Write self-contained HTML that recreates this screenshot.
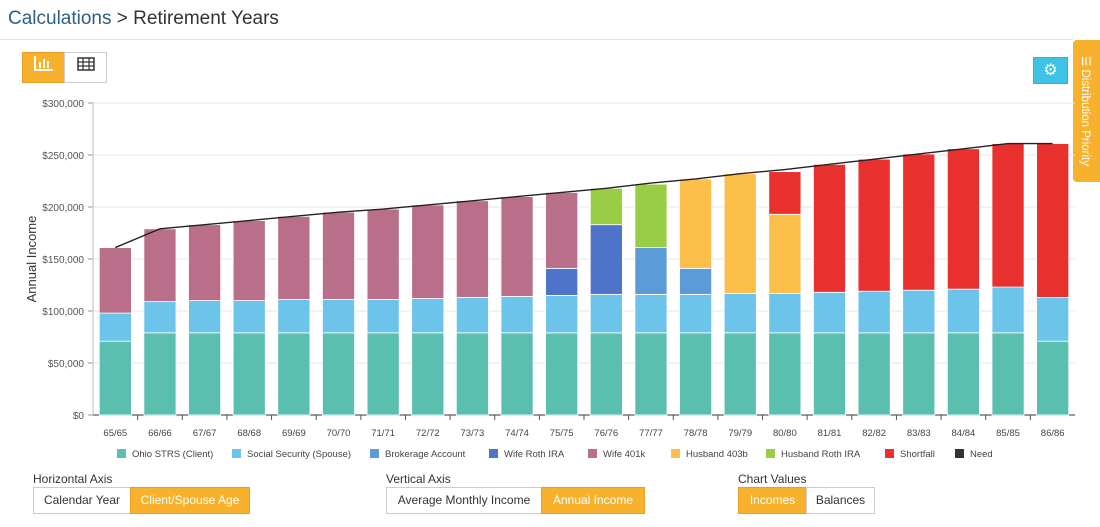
<!DOCTYPE html>
<html><head><meta charset="utf-8"><style>
body{margin:0;width:1100px;height:527px;background:#fff;font-family:"Liberation Sans",sans-serif;overflow:hidden;position:relative}
.abs{position:absolute}
.btn{position:absolute;height:27px;border:1px solid #ccc;box-sizing:border-box;font-size:12px;line-height:25px;text-align:center;color:#333;background:#fff}
.on{background:#f8b12c;border-color:#e9a020;color:#fff}
.lbl{position:absolute;font-size:12px;color:#333}
</style></head><body>
<div class="abs" style="left:8px;top:8px;font-size:19px;color:#333"><span style="color:#2d5f86">Calculations</span> &gt; Retirement Years</div>
<div class="abs" style="left:0;top:39px;width:1073px;height:1px;background:#e3e3e3"></div>
<div class="btn on" style="left:22px;top:52px;width:43px;height:31px;line-height:29px">
<svg width="20" height="16" viewBox="0 0 20 16"><path d="M1 1V15H19" stroke="#fff" stroke-width="2" fill="none"/><rect x="5" y="7" width="2" height="6" fill="#fff"/><rect x="9" y="4" width="2" height="9" fill="#fff"/><rect x="13" y="6" width="2" height="7" fill="#fff"/></svg></div>
<div class="btn" style="left:64px;top:52px;width:43px;height:31px;line-height:29px">
<svg width="18" height="14" viewBox="0 0 18 14"><rect x="1" y="1" width="16" height="12" fill="none" stroke="#333" stroke-width="1.5"/><path d="M1 5H17M1 9H17M6 1V13M12 1V13" stroke="#333" stroke-width="1.2"/></svg></div>
<div class="btn" style="left:1033px;top:57px;width:35px;height:27px;background:#3ec3e6;border-color:#2fb3d6;color:#fff;font-size:16px">⚙</div>
<div class="abs" style="left:1073px;top:40px;width:27px;height:142px;background:#f8b12c;border-radius:4px 0 0 4px">
<div style="position:absolute;left:13px;top:71px;transform:translate(-50%,-50%) rotate(90deg);white-space:nowrap;color:#fff;font-size:11.5px">☰ Distribution Priority</div></div>

<svg class="abs" style="left:0;top:0" width="1100" height="470" id="chart"></svg>

<div class="abs" style="left:0;top:448px;width:1100px;height:14px" id="legend"></div>

<div class="lbl" style="left:33px;top:472px">Horizontal Axis</div>
<div class="btn" style="left:33px;top:487px;width:98px">Calendar Year</div>
<div class="btn on" style="left:130px;top:487px;width:120px">Client/Spouse Age</div>
<div class="lbl" style="left:386px;top:472px">Vertical Axis</div>
<div class="btn" style="left:386px;top:487px;width:156px">Average Monthly Income</div>
<div class="btn on" style="left:541px;top:487px;width:104px">Annual Income</div>
<div class="lbl" style="left:738px;top:472px">Chart Values</div>
<div class="btn on" style="left:738px;top:487px;width:69px">Incomes</div>
<div class="btn" style="left:806px;top:487px;width:69px">Balances</div>

<script>
const categories=["65/65","66/66","67/67","68/68","69/69","70/70","71/71","72/72","73/73","74/74","75/75","76/76","77/77","78/78","79/79","80/80","81/81","82/82","83/83","84/84","85/85","86/86"];
const seriesNames=["Ohio STRS (Client)","Social Security (Spouse)","Brokerage Account","Wife Roth IRA","Wife 401k","Husband 403b","Husband Roth IRA","Shortfall","Need"];
const seriesColors=["#5bbfb0","#6cc4ea","#5b9bd8","#4e74c9","#b96f89","#fbbf4a","#99cd45","#e8302e","#333333"];
const ohioSTRS=[71,79,79,79,79,79,79,79,79,79,79,79,79,79,79,79,79,79,79,79,79,71];
const socialSecurity=[27,30,31,31,32,32,32,33,34,35,36,37,37,37,38,38,39,40,41,42,44,42];
const brokerage=[0,0,0,0,0,0,0,0,0,0,0,0,45,25,0,0,0,0,0,0,0,0];
const wifeRoth=[0,0,0,0,0,0,0,0,0,0,26,67,0,0,0,0,0,0,0,0,0,0];
const wife401k=[63,70,73,77,80,84,87,90,93,96,73,0,0,0,0,0,0,0,0,0,0,0];
const husband403b=[0,0,0,0,0,0,0,0,0,0,0,0,0,86,115,76,0,0,0,0,0,0];
const husbandRoth=[0,0,0,0,0,0,0,0,0,0,0,35,61,0,0,0,0,0,0,0,0,0];
const shortfall=[0,0,0,0,0,0,0,0,0,0,0,0,0,0,0,41,123,127,131,135,138,148];
const need=[161,179,183,187,191,195,198,202,206,210,214,218,223,227,232,236,241,246,251,256,261,261];
const yTicks=[0,50,100,150,200,250,300];
const yTickLabels=["$0","$50,000","$100,000","$150,000","$200,000","$250,000","$300,000"];

const NS="http://www.w3.org/2000/svg";
const svg=document.getElementById('chart');
const X0=93,X1=1075,Y0=415,Y1=103;
const band=(X1-X0)/categories.length;
const xC=i=>X0+band*(i+0.5);
const y=v=>Y0-(v/300)*(Y0-Y1);
function mk(t,a){const e=document.createElementNS(NS,t);for(const k in a)e.setAttribute(k,a[k]);svg.appendChild(e);return e;}
yTicks.forEach((t,i)=>{
 const g=mk('line',{x1:X0,x2:X1,y1:y(t),y2:y(t),stroke:i?'#e6e6e6':'#333','stroke-width':1});
 
 
 const tx=mk('text',{x:84,y:y(t)+4,'text-anchor':'end','font-size':10,fill:'#555','font-family':'Liberation Sans'});
 tx.textContent=yTickLabels[i];
 
 
 mk('line',{x1:88,x2:93,y1:y(t),y2:y(t),stroke:'#999'});
});
mk('line',{x1:X0,x2:X0,y1:Y1,y2:Y0,stroke:'#bbb'});
const yt=mk('text',{x:0,y:0,transform:'translate(36,259) rotate(-90)','text-anchor':'middle','font-size':13,fill:'#333','font-family':'Liberation Sans'});
yt.textContent='Annual Income';


const stacks=[ohioSTRS,socialSecurity,brokerage,wifeRoth,wife401k,husband403b,husbandRoth,shortfall];
const stackOrder=[0,1,2,3,4,5,6,7];
const bw=band*0.72;
categories.forEach((c,i)=>{
 let base=0;
 stackOrder.forEach(s=>{
  const v=stacks[s][i]; if(!v)return;
  const r=mk('rect',{x:xC(i)-bw/2,y:y(base+v),width:bw,height:y(base)-y(base+v),fill:seriesColors[s],stroke:'#fff','stroke-width':0.8});
  
  
  base+=v;
 });
 const tl=mk('text',{x:xC(i),y:436,'text-anchor':'middle','font-size':9.5,fill:'#444','font-family':'Liberation Sans'});
 tl.textContent=c;
 
 
 if(i>0)mk('line',{x1:X0+band*i,x2:X0+band*i,y1:Y0,y2:Y0+5,stroke:'#555'});
});
const pl=mk('polyline',{points:need.map((v,i)=>xC(i)+','+y(v)).join(' '),fill:'none',stroke:'#222','stroke-width':1.4});



const leg=document.getElementById('legend');
const legX=[117,232,370,489,588,671,766,885,955];
seriesNames.forEach((n,i)=>{
 const d=document.createElement('div');
 
 
 d.style.cssText='position:absolute;top:0;left:'+legX[i]+'px;font-size:9.5px;color:#444;white-space:nowrap;line-height:14px';
 d.innerHTML='<span style="display:inline-block;width:9px;height:9px;background:'+seriesColors[i]+';margin-right:6px;vertical-align:-1px"></span>'+n;
 leg.appendChild(d);
});
</script>
</body></html>
